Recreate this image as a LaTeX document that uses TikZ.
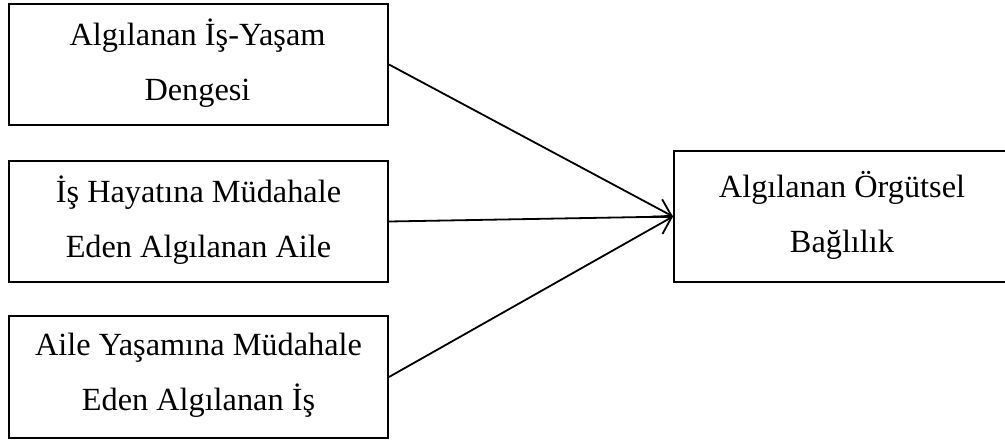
\documentclass[tikz,border=0pt]{standalone}
\usepackage{fontspec}
\setmainfont{Liberation Serif}
\usetikzlibrary{arrows.meta}
\begin{document}
\begin{tikzpicture}[x=1pt,y=-1pt,
  frame/.style={draw=black,line width=2pt,rectangle,inner sep=0pt},
  label/.style={align=center,inner sep=0pt,font=\fontsize{32.3}{55}\selectfont},
  link/.style={draw=black,line width=1.8pt},
  head/.style={-{Straight Barb[length=16pt,width=20pt,line width=1.8pt]}}]
\useasboundingbox (0,0) rectangle (1005,441);
\node[frame,minimum width=379pt,minimum height=121pt] (b1) at (198.5,64.5) {};
\node[frame,minimum width=379pt,minimum height=121pt] (b2) at (198.5,221.5) {};
\node[frame,minimum width=379pt,minimum height=122pt] (b3) at (198.5,377) {};
\node[frame,minimum width=360pt,minimum height=131pt,anchor=west] (r) at (673,216.5) {};
\node[label] (t1) at (197.5,63) {Algılanan İş-Yaşam\\Dengesi};
\node[label] (t2) at (198.5,220) {İş Hayatına Müdahale\\Eden Algılanan Aile};
\node[label] (t3) at (198.5,375.5) {Aile Yaşamına Müdahale\\Eden Algılanan İş};
\node[label] (t4) at (842,215) {Algılanan Örgütsel\\Bağlılık};
\draw[link,head] (b1.east) -- (r.west);
\draw[link] (b2.east) -- (r.west);
\draw[link,head] (b3.east) -- (r.west);
\end{tikzpicture}
\end{document}
